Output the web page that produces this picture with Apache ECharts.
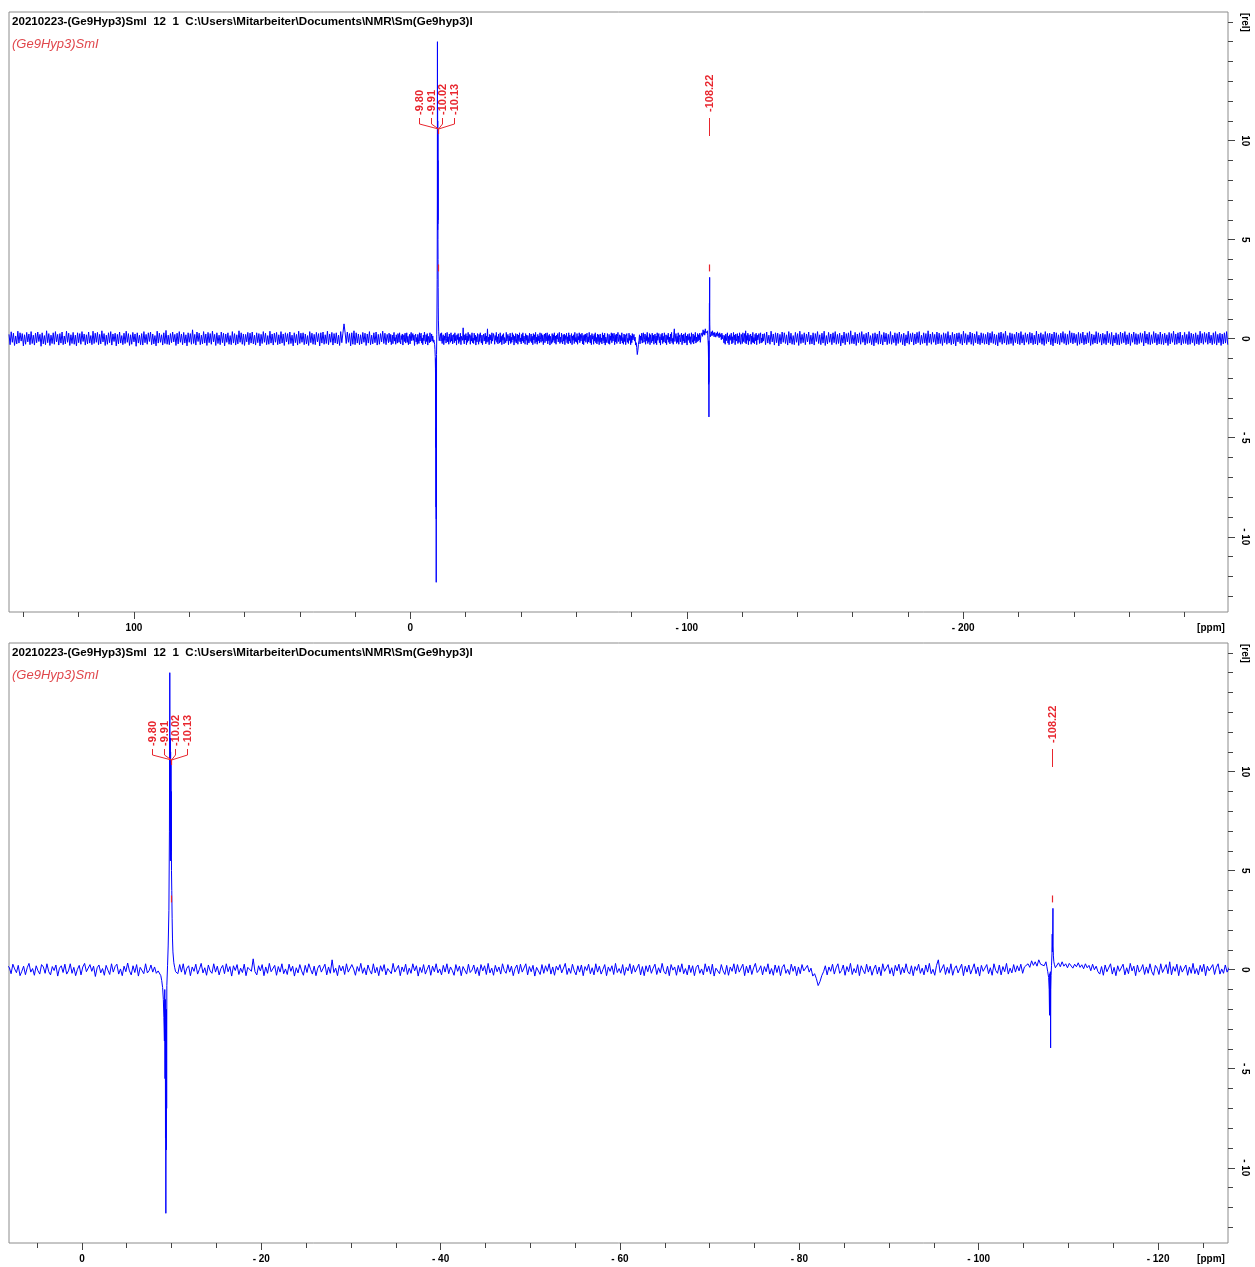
<!DOCTYPE html>
<html><head><meta charset="utf-8">
<script src="https://cdn.jsdelivr.net/npm/echarts@6/dist/echarts.min.js"></script>
<style>html,body{margin:0;padding:0;background:#fff}#c{width:1255px;height:1267px}</style>
</head><body><div id="c"></div>
<script>
// ---------- DATA ----------
// Baseline noise (hundredths of [rel]) on three uniform ppm grids
const noiseLeftStart = 145.2, noiseLeftStep = -0.4;
const noiseLeft = [
22,-30,35,-18,28,-34,14,-26,38,-22,30,-12,26,-36,20,-28,32,-16,24,-30,
36,-24,18,-32,28,-20,34,-14,22,-38,30,-26,16,-30,40,-20,26,-34,18,-24,
30,-28,36,-16,22,-32,26,-22,34,-30,14,-26,38,-18,28,-34,20,-24,32,-28,
18,-36,30,-20,26,-28,36,-14,24,-32,20,-26,34,-22,16,-30,38,-24,28,-18,
32,-30,22,-26,40,-16,26,-34,18,-28,30,-20,36,-32,24,-14,28,-36,22,-26,
34,-22,16,-30,28,-24,38,-18,26,-34,20,-28,32,-16,24,-38,30,-22,18,-30,
26,-32,36,-20,22,-28,30,-14,34,-30,24,-26,16,-36,38,-22,28,-18,20,-32,
30,-24,42,-28,18,-30,26,-20,34,-16,22,-34,28,-26,36,-18,24,-30,32,-22,
20,-36,30,-18,26,-28,45,-24,22,-32,34,-14,28,-30,18,-26,36,-22,24,-34,
32,-20,26,-28,38,-16,22,-34,30,-24,18,-30,34,-20,28,-36,24,-18,30,-28,
16,-30,36,-22,26,-32,20,-26,40,-18,30,-28,24,-34,22,-16,32,-30,28,-22,
34,-26,18,-32,30,-20,26,-36,22,-24,36,-18,28,-30,16,-28,38,-22,24,-32,
28,-18,32,-30,20,-26,36,-22,24,-34,30,-16,26,-28,34,-24,18,-36,30,-20,
22,-32,38,-24,28,-18,30,-30,24,-26,16,-34,36,-20,28,-28,22,-30,32,-16,
26,-36,30,-22,34,-28,20,-24,38,-30,24,-18,32,-32,26,-22,30,-26,18,-34,
36,-20,28,75,30,-24,34,-18,26,-36,30,-28,40,-30,30,-22,24,-30,20,-26,
32,-18,28,-34,24,-22,36,-30,18,-26,30,-20,34,-32,22,-28,26,-16,38,-24,
28,-30,22];
const noiseMidStart = 8.1, noiseMidStep = -0.2;
const noiseMid = [
12,-20,28,4,-15,22,-30,-8,18,-25,10,32,-12,6,-28,20,-5,-22,26,14,
-18,30,-10,-26,16,-4,24,-32,8,20,-14,28,-22,-6,30,-18,12,-30,2,22,
-26,14,32,-10,-20,26,-8,18,-34,10,24,-16,6,-28,22,-2,-24,30,-12,16,
28,-22,4,-30,18,-10,34,-6,-26,20,-14,26,-32,12,8,-20,30,-16,-4,24,
-12,14,-18,-6,0,0,0,0,0,0,0,0,0,0,-20,26,-12,30,-24,8,
20,-30,14,-8,28,-22,2,32,-16,10,-28,24,-6,-18,30,-12,18,-26,6,22,
-20,30,-10,16,-32,20,-4,26,-24,8,-14,28,-30,12,18,-8,55,-10,-26,20,
-6,26,-30,14,-18,32,-10,-2,22,-28,16,-12,30,-20,4,-24,28,-8,18,-32,
10,-16,26,-6,-28,22,-14,30,2,-22,18,-30,8,24,-12,-4,28,-26,14,-18,
50,-14,8,-30,22,-6,18,-24,30,-12,-20,26,4,-28,16,-8,32,-18,10,-26,
24,-4,-22,30,-16,12,-30,20,-8,26,-26,6,16,-20,32,-12,-2,22,-30,14,
-10,28,-24,8,-18,30,-6,20,-32,12,-14,26,-22,2,24,-28,18,-10,30,-16,
4,-26,22,-12,30,-20,14,-4,-28,26,-8,18,-30,16,10,-22,28,-14,-2,24,
-20,12,-30,26,-6,20,-24,32,-16,8,-28,22,-10,14,-22,30,-4,-18,26,-12,
18,-30,6,24,-20,28,-12,-6,30,-26,16,-10,22,-32,12,4,-24,26,-18,20,
-8,30,-22,14,-28,18,-2,26,-16,-10,32,-24,8,-18,28,-6,-26,20,-12,24,
-30,16,-4,28,-20,10,-26,30,-12,18,-22,2,26,-30,14,-8,20,-24,32,-14,
6,-18,26,-28,12,-6,30,-20,22,-12,-4,28,-26,16,-30,20,-10,24,-18,8,
28,-24,10,-16,32,-8,-22,18,-30,26,-2,14,-28,22,-12,30,-20,6,-26,24,
-14,20,-30,12,24,-18,4,-26,30,-10,18,-22,28,-32,8,16,-20,26,-6,-24,
22,-28,14,-8,30,-20,26,-12,-4,28,-30,18,-16,24,-24,10,32,-14,-2,20,
-26,16,-10,30,-22,6,-28,24,-14,20,-30,12,26,-18,2,-24,28,-8,18,-30,
14,-20,26,-6,-16,22,-12,8,-32,-20,-45,-80,-60,-30,-10,20,-26,14,-8,28,
-22,10,30,-18,-4,24,-28,16,-10,32,-24,6,-16,26,-30,20,-2,-20,28,-12,
18,-28,4,24,-22,14,-30,30,-8,-14,26,-20,10,-32,22,-6,28,-24,12,-16,
30,-10,-22,20,-30,16,-4,28,-18,8,-26,24,-12,32,-20,2,-28,22,50,-14,
-8,26,-24,12,-18,30,-28,6,20,-16,-6,28,-30,18,-12,24,-22,4,30,-20,
14,-32,22,-8,-14,26,-20,10,-28,30,-4,-18,24,-26,16,-10,32,-22,8,-16,
26,-12,20,-6,28,-18,14,22,30,12,45,22,40,18,50,28,38,20,40,0,
0,0,0,0,20,35,15,40,18,30,10,32,22,8,28,15,35,12,25,5,
30,10,22,-5,28,0,18,-10,-22,16,-28,24,-10,-4,30,-22,12,-30,20,-8,
-16,28,-26,10,-20,32,-6,18,-30,24,-12,2,26,-24,14,-18,30,-10,-28,22,
8,-24,30,-14,-4,26,-20,40,-26,16,-8,28,-30,20,-12,-2,24,-28,14,-18,
32,-20,6,-26,22,-10,28,-30,18,-6,-16,26,-24,12,30,-22,4,-18,24,-12];
const noiseRightStart = -128.1, noiseRightStep = -0.4;
const noiseRight = [
26,-30,34,-22,18,-28,38,-16,24,-32,30,-20,28,-36,22,-26,34,-18,30,-24,
20,-32,36,-22,28,-28,16,-30,32,-18,26,-34,38,-24,22,-20,30,-30,24,-16,
34,-28,18,-26,30,-32,26,-14,36,-24,20,-30,28,-22,38,-34,16,-26,32,-18,
24,-30,30,-20,36,-28,22,-24,28,-36,18,-22,34,-30,26,-16,30,-28,40,-24,
18,-26,32,-34,24,-20,30,-28,36,-18,22,-32,28,-24,34,-22,16,-30,26,-36,
30,-20,24,-28,38,-26,20,-32,32,-16,28,-30,22,-24,36,-28,18,-20,30,-34,
26,-24,34,-18,22,-30,28,-36,20,-22,38,-28,26,-16,30,-32,24,-26,32,-20,
36,-30,18,-24,30,-22,26,-34,40,-20,24,-28,32,-18,22,-30,34,-26,28,-24,
20,-34,30,-20,26,-28,36,-22,18,-30,32,-26,24,-36,28,-16,30,-24,22,-32,
38,-22,26,-30,20,-18,34,-28,28,-34,24,-20,36,-26,18,-30,30,-22,26,-28,
22,-26,32,-32,28,-20,36,-24,24,-30,20,-36,30,-18,34,-28,26,-22,38,-30,
16,-28,30,-24,26,-34,22,-20,34,-26,28,-30,36,-22,20,-32,30,-18,24,-28,
32,-22,28,-30,18,-26,38,-32,24,-20,30,-28,22,-34,36,-24,26,-16,28,-30,
24,-36,34,-22,30,-26,20,-30,28,-18,36,-24,26,-32,22,-28,40,-20,30,-26,
28,-20,22,-34,32,-28,26,-22,34,-30,18,-26,30,-20,36,-34,24,-28,20,-22,
36,-26,30,-18,24,-32,28,-24,22,-30,38,-20,26,-28,32,-36,18,-22,30,-30,
22,-32,34,-24,28,-20,36,-30,20,-26,30,-34,24,-18,34,-28,26,-30,22,-24,
30,-18,26,-36,38,-22,24,-28,32,-30,20,-24,36,-20,28,-32,22,-26,34,-28,
24,-30,28,-22,20,-34,32,-26,26,-18,38,-30,24,-28,30,-22,34,-32,18,-24,
32,-24,22,-30,36,-28,28,-20,24,-34,30,-26,20,-30,38,-22,26,-28,32,-18,
26,-28,34,-22,18,-30,30,-24,36,-32,22,-20,28,-34,24,-26,30,-22,36,-30];

// Signal around -9.9 ppm: [ppm, rel]
const peakA = [
[-8.70,-0.15],[-8.80,-0.3],[-8.90,-0.55],[-9.00,-0.9],[-9.08,-1.5],[-9.14,-2.4],[-9.20,-3.6],
[-9.24,-1.0],[-9.27,-5.5],[-9.30,-1.5],[-9.32,-8.5],[-9.34,-3.0],[-9.36,-12.3],[-9.38,-4.5],
[-9.40,-9.1],[-9.43,-2.0],[-9.45,-7.0],[-9.47,-0.8],[-9.55,0.2],[-9.62,1.2],[-9.70,3.0],
[-9.76,7.0],[-9.80,15.0],[-9.83,9.0],[-9.85,11.7],[-9.87,5.5],[-9.89,11.0],[-9.91,5.8],
[-9.93,10.4],[-9.95,6.0],[-9.97,9.0],[-9.99,5.0],[-10.02,4.0],[-10.06,2.6],[-10.10,1.6],
[-10.15,0.9],[-10.25,0.35],[-10.35,0.1],[-10.45,-0.1]];
// Signal at -108.22 ppm
const peakB = [
[-107.60,0.15],[-107.70,-0.1],[-107.80,-0.4],[-107.86,-1.0],[-107.90,-2.3],[-107.93,-0.2],[-107.96,-2.2],
[-107.99,-0.1],[-108.02,-3.95],[-108.04,-1.0],[-108.07,-0.3],[-108.12,0.2],[-108.17,0.8],[-108.20,1.8],
[-108.22,0.9],[-108.25,1.7],[-108.28,3.1],[-108.30,1.2],[-108.33,0.7],[-108.38,0.4],[-108.45,0.25],
[-108.55,0.1],[-108.62,0.2]];

// Peak picking annotations
const multipletLabels = ['-9.80','-9.91','-10.02','-10.13'];
const multipletPpm = -9.92, multipletTip = 10.45;
const singletLabels = ['-108.22'];
const singletPpm = -108.22, singletTip = 10.25;
const pickMarkPpm = [-10.0, -108.22];
const pickMarkLow = 3.4, pickMarkHigh = 3.75;

// Axes
const topRange = [-295.8, 145.2];
const bottomRange = [-127.8, 8.13];
const yRange = [-13.8, 16.5];
const topMajor = [100, 0, -100, -200];
const topMinor = [140,120,100,80,60,40,20,0,-20,-40,-60,-80,-100,-120,-140,-160,-180,-200,-220,-240,-260,-280];
const bottomMajor = [0,-20,-40,-60,-80,-100,-120];
const bottomMinor = [5,0,-5,-10,-15,-20,-25,-30,-35,-40,-45,-50,-55,-60,-65,-70,-75,-80,-85,-90,-95,-100,-105,-110,-115,-120,-125];
const yMajor = [-10,-5,0,5,10];
const yMinor = [-13,-12,-11,-10,-9,-8,-7,-6,-5,-4,-3,-2,-1,0,1,2,3,4,5,6,7,8,9,10,11,12,13,14,15,16];

const headerText = '20210223-(Ge9Hyp3)SmI  12  1  C:\\Users\\Mitarbeiter\\Documents\\NMR\\Sm(Ge9hyp3)I';
const titleText = '(Ge9Hyp3)SmI';

// ---------- BUILD ----------
function seg(start, step, arr){ return arr.map((v,i)=>[+(start+i*step).toFixed(3), v/100]); }
function win(p){ const xs=p.map(d=>d[0]); return [Math.min(...xs)-0.06, Math.max(...xs)+0.06]; }
const wA = win(peakA), wB = win(peakB);
const mid = seg(noiseMidStart, noiseMidStep, noiseMid).filter(d=>!((d[0]>=wA[0]&&d[0]<=wA[1])||(d[0]>=wB[0]&&d[0]<=wB[1])));
const spectrum = seg(noiseLeftStart, noiseLeftStep, noiseLeft)
  .concat(mid, peakA, peakB, seg(noiseRightStart, noiseRightStep, noiseRight))
  .sort((a,b)=>b[0]-a[0]);

const RED = '#e8262e', BLUE = '#0000ff';
const FONT = '"Liberation Sans", Arial, sans-serif';
const fmt = v => v < 0 ? '- ' + Math.abs(v) : String(v);
const peakGroups = [multipletLabels, singletLabels];

function renderPeakLabels(params, api){
  const labels = peakGroups[api.value(2)];
  const p = api.coord([api.value(0), api.value(1)]);
  const x0 = Math.round(p[0]) + 0.5, y0 = Math.round(p[1]);
  const font = 'bold 11px ' + FONT;
  const ch = [];
  if (labels.length > 1){
    ch.push({type:'line', shape:{x1:x0,y1:y0+2,x2:x0,y2:y0-3}, style:{stroke:RED,lineWidth:1.2}});
    labels.forEach((t,i)=>{
      const xi = Math.round(x0 - 19.2 + i*11.4) + 0.5;
      ch.push({type:'polyline', shape:{points:[[x0,y0-3],[xi,y0-8],[xi,y0-14]]}, style:{stroke:RED,fill:null,lineWidth:1}});
      ch.push({type:'text', x:xi, y:y0-17, rotation:Math.PI/2, style:{text:t, fill:RED, font:font, align:'left', verticalAlign:'middle'}});
    });
  } else {
    ch.push({type:'line', shape:{x1:x0,y1:y0,x2:x0,y2:y0-18}, style:{stroke:RED,lineWidth:1}});
    ch.push({type:'text', x:x0, y:y0-24, rotation:Math.PI/2, style:{text:labels[0], fill:RED, font:font, align:'left', verticalAlign:'middle'}});
  }
  return {type:'group', children:ch};
}

function xAxes(grid, range, major, minor){
  return [
    {gridIndex:grid, type:'value', position:'bottom', min:range[0], max:range[1], inverse:true, splitLine:{show:false},
     axisLine:{show:false, onZero:false},
     axisTick:{show:true, inside:false, length:7, customValues:major, lineStyle:{color:'#444'}},
     axisLabel:{show:true, customValues:major, formatter:fmt, margin:11, color:'#000', fontWeight:'bold', fontSize:10, fontFamily:FONT}},
    {gridIndex:grid, type:'value', position:'bottom', min:range[0], max:range[1], inverse:true, splitLine:{show:false},
     axisLine:{show:false, onZero:false},
     axisTick:{show:true, inside:false, length:5, customValues:minor, lineStyle:{color:'#444'}},
     axisLabel:{show:false}}
  ];
}
function yAxes(grid){
  return [
    {gridIndex:grid, type:'value', position:'right', min:yRange[0], max:yRange[1], splitLine:{show:false},
     axisLine:{show:false, onZero:false},
     axisTick:{show:true, inside:false, length:7, customValues:yMajor, lineStyle:{color:'#444'}},
     axisLabel:{show:true, customValues:yMajor, formatter:fmt, rotate:-90, margin:12, color:'#000', fontWeight:'bold', fontSize:10, fontFamily:FONT}},
    {gridIndex:grid, type:'value', position:'right', min:yRange[0], max:yRange[1], splitLine:{show:false},
     axisLine:{show:false, onZero:false},
     axisTick:{show:true, inside:false, length:5, customValues:yMinor, lineStyle:{color:'#444'}},
     axisLabel:{show:false}}
  ];
}
function spectrumSeries(xi, yi){
  return {type:'line', xAxisIndex:xi, yAxisIndex:yi, data:spectrum, showSymbol:false, symbol:'none',
    lineStyle:{color:BLUE, width:1}, itemStyle:{color:BLUE}, clip:true, animation:false, silent:true, z:2,
    markLine:{silent:true, symbol:['none','none'], label:{show:false}, animation:false,
      lineStyle:{color:RED, width:1.2, type:'solid'},
      data: pickMarkPpm.map(p=>[{coord:[p,pickMarkLow]},{coord:[p,pickMarkHigh]}])}};
}
function labelSeries(xi, yi){
  return {type:'custom', xAxisIndex:xi, yAxisIndex:yi, clip:false, silent:true, z:5, animation:false,
    data:[[multipletPpm, multipletTip, 0],[singletPpm, singletTip, 1]], renderItem:renderPeakLabels};
}
function panelText(top){
  return [
    {type:'text', x:12, y:top+10, style:{text:headerText, font:'bold 11.6px '+FONT, fill:'#000', verticalAlign:'middle'}},
    {type:'text', x:12, y:top+32, style:{text:titleText, font:'italic 13px '+FONT, fill:'#e0474c', verticalAlign:'middle'}},
    {type:'text', x:1245, y:top+1, rotation:-Math.PI/2, style:{text:'[rel]', font:'bold 10px '+FONT, fill:'#000', align:'left', verticalAlign:'middle'}},
    {type:'text', x:1211, y:top+616, style:{text:'[ppm]', font:'bold 10px '+FONT, fill:'#000', align:'center', verticalAlign:'middle'}}
  ];
}

const chart = echarts.init(document.getElementById('c'), null, {renderer:'canvas'});
chart.setOption({
  animation:false,
  backgroundColor:'#fff',
  grid:[
    {left:9, top:12, width:1219, height:600, show:true, borderColor:'#8c8c8c', borderWidth:1, backgroundColor:'transparent'},
    {left:9, top:643, width:1219, height:600, show:true, borderColor:'#8c8c8c', borderWidth:1, backgroundColor:'transparent'}
  ],
  xAxis: xAxes(0, topRange, topMajor, topMinor).concat(xAxes(1, bottomRange, bottomMajor, bottomMinor)),
  yAxis: yAxes(0).concat(yAxes(1)),
  series:[ spectrumSeries(0,0), spectrumSeries(2,2), labelSeries(0,0), labelSeries(2,2) ],
  graphic: panelText(12).concat(panelText(643))
});
</script></body></html>
